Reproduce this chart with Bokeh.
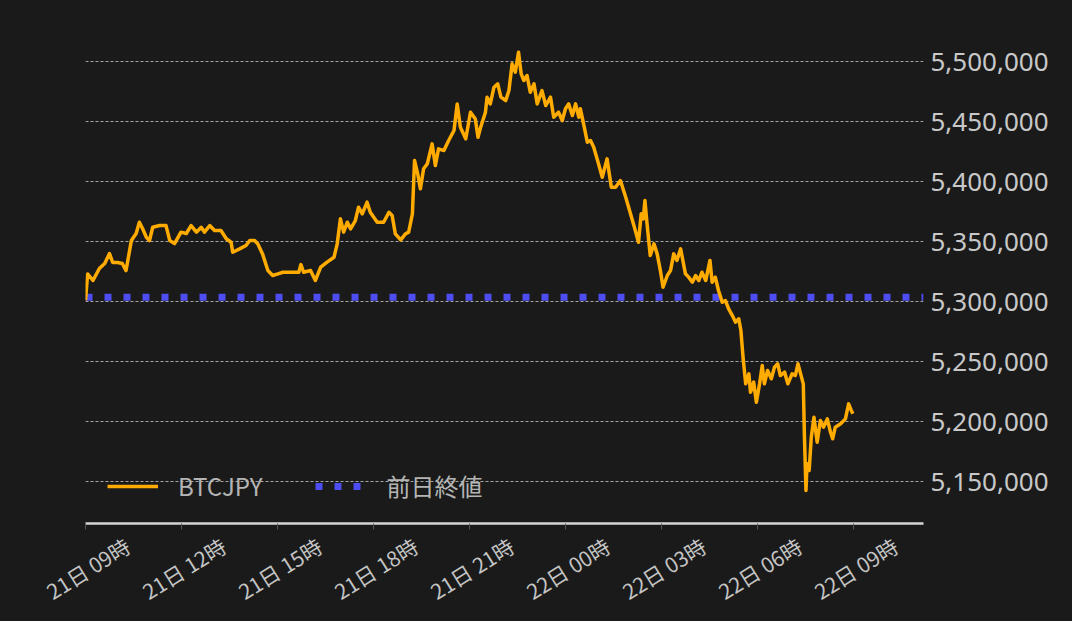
import math
import datetime as dt
from bokeh.plotting import figure
from bokeh.models import (ColumnDataSource, FixedTicker, NumeralTickFormatter, Range1d,
                          Legend, LegendItem, DatetimeAxis, CustomJSTickFormatter)
from bokeh.embed import file_html
from bokeh.resources import INLINE

# ---- data ----
start_label = "2021-12-21 09:00"
times = ["09:00", "09:04", "09:14", "09:26", "09:36", "09:45", "09:51", "10:00", "10:09", "10:16",
         "10:26", "10:35", "10:41", "10:47", "10:54", "11:00", "11:06", "11:19", "11:31", "11:38",
         "11:47", "11:59", "12:09", "12:18", "12:28", "12:37", "12:43", "12:53", "13:02", "13:14",
         "13:24", "13:33", "13:36", "13:49", "14:01", "14:08", "14:17", "14:23", "14:32", "14:42",
         "14:51", "15:01", "15:10", "15:24", "15:40", "15:44", "15:49", "16:02", "16:11", "16:21",
         "16:33", "16:46", "16:52", "16:58", "17:04", "17:11", "17:17", "17:26", "17:32", "17:39",
         "17:48", "17:54", "18:07", "18:19", "18:29", "18:35", "18:41", "18:51", "19:00", "19:06",
         "19:13", "19:17", "19:23", "19:28", "19:34", "19:41", "19:50", "19:56", "20:02", "20:12",
         "20:21", "20:31", "20:37", "20:43", "20:53", "21:02", "21:11", "21:16", "21:21", "21:30",
         "21:33", "21:39", "21:46", "21:53", "21:59", "22:08", "22:14", "22:20", "22:26", "22:32",
         "22:37", "22:42", "22:48", "22:54", "23:01", "23:07", "23:16", "23:23", "23:32", "23:38",
         "23:47", "23:54", "00:00", "00:06", "00:13", "00:19", "00:25", "00:28", "00:34", "00:41",
         "00:47", "00:53", "01:02", "01:09", "01:18", "01:26", "01:34", "01:43", "01:53", "02:02",
         "02:11", "02:17", "02:22", "02:26", "02:29", "02:33", "02:39", "02:46", "02:52", "02:58",
         "03:03", "03:11", "03:17", "03:23", "03:29", "03:36", "03:45", "03:51", "03:58", "04:04",
         "04:10", "04:16", "04:23", "04:31", "04:35", "04:41", "04:47", "04:54", "05:00", "05:06",
         "05:13", "05:19", "05:25", "05:29", "05:33", "05:38", "05:44", "05:47", "05:53", "05:58",
         "06:04", "06:09", "06:13", "06:19", "06:26", "06:32", "06:38", "06:43", "06:51", "06:57",
         "07:05", "07:11", "07:16", "07:21", "07:26", "07:28", "07:31", "07:33", "07:37", "07:41",
         "07:46", "07:52", "07:58", "08:04", "08:11", "08:17", "08:21", "08:26", "08:36", "08:45",
         "08:51", "08:56", "08:59"]
prices = [5301000, 5323000, 5317500, 5327500, 5331700, 5340000, 5332500, 5332500, 5331700, 5325800,
          5350800, 5356700, 5366100, 5360800, 5353600, 5350800, 5361900, 5363300, 5363300, 5350800,
          5348300, 5357800, 5356700, 5363300, 5357800, 5361900, 5357800, 5363300, 5359200, 5359200,
          5352300, 5349400, 5341100, 5343900, 5346700, 5350800, 5350800, 5348100, 5339700, 5325800,
          5321700, 5323100, 5324400, 5324400, 5324400, 5330800, 5324400, 5325800, 5317500, 5328600,
          5332800, 5336900, 5348100, 5368900, 5357800, 5366100, 5360600, 5367500, 5378600, 5373100,
          5382800, 5374400, 5366100, 5366100, 5374400, 5371700, 5356400, 5351400, 5356400, 5357800,
          5373100, 5417500, 5406400, 5393900, 5410600, 5414800, 5431400, 5413300, 5427200, 5425800,
          5434200, 5442500, 5464700, 5445300, 5435600, 5457800, 5452200, 5436900, 5445300, 5457800,
          5470300, 5464700, 5478600, 5481400, 5470300, 5467500, 5475800, 5498100, 5491100, 5507800,
          5489700, 5484200, 5488300, 5474400, 5481400, 5464700, 5475800, 5463300, 5470300, 5453600,
          5457800, 5450800, 5460600, 5464700, 5455000, 5464700, 5453600, 5460600, 5448100, 5432800,
          5434200, 5428600, 5414800, 5403600, 5418900, 5395300, 5395300, 5400800, 5386900, 5373100,
          5359200, 5349400, 5373100, 5368900, 5384200, 5364700, 5338300, 5348100, 5339700, 5325800,
          5311900, 5321700, 5325800, 5339700, 5334200, 5343900, 5323100, 5320300, 5316100, 5321700,
          5317500, 5324400, 5317500, 5334200, 5316100, 5320300, 5309200, 5299400, 5300800, 5293900,
          5288300, 5282800, 5285600, 5275800, 5253600, 5231400, 5239700, 5224400, 5232800, 5216100,
          5231400, 5246700, 5231400, 5242500, 5235600, 5245300, 5248100, 5238300, 5241100, 5231400,
          5239700, 5238300, 5248100, 5239700, 5231400, 5189700, 5142500, 5164700, 5159200, 5186900,
          5203600, 5182800, 5200800, 5195300, 5202200, 5191100, 5185600, 5195300, 5198100, 5202200,
          5214700, 5209200, 5206400]
prev_close = 5303600
series_name = "BTCJPY"
prev_name = "前日終値"
x_tick_labels = ["21日 09時", "21日 12時", "21日 15時", "21日 18時", "21日 21時",
                 "22日 00時", "22日 03時", "22日 06時", "22日 09時"]
y_ticks = [5150000, 5200000, 5250000, 5300000, 5350000, 5400000, 5450000, 5500000]
y_bounds = [5115000, 5521700]
x_span_hours = 26.19

# ---- build timestamps ----
t0 = dt.datetime.strptime(start_label, "%Y-%m-%d %H:%M")
stamps = []
day = 0
prev_min = -1
for s in times:
    h, m = map(int, s.split(":"))
    mins = h * 60 + m
    if mins < prev_min:
        day += 1
    prev_min = mins
    stamps.append(t0.replace(hour=h, minute=m) + dt.timedelta(days=day))

def ms(d):
    return int(round((d - dt.datetime(1970, 1, 1)).total_seconds() * 1000.0))

tick_ms = [ms(t0 + dt.timedelta(hours=3 * i)) for i in range(len(x_tick_labels))]
x_end = t0 + dt.timedelta(hours=x_span_hours)

FRAME_W, FRAME_H = 838, 488
src = ColumnDataSource(dict(t=stamps, price=prices))
prev_src = ColumnDataSource(dict(t=[t0, x_end], price=[prev_close, prev_close]))

BG = "#1a1a1a"
x0, x1 = ms(t0), ms(x_end)
p = figure(frame_width=FRAME_W, frame_height=FRAME_H, x_axis_type="datetime",
           y_axis_location="right", output_backend="svg", toolbar_location=None,
           min_border_left=85, min_border_top=35, min_border_right=149, min_border_bottom=96,
           background_fill_color=BG, border_fill_color=BG,
           outline_line_color=None,
           x_range=Range1d(x0, x1), y_range=Range1d(*y_bounds))
p.styles = {"background-color": BG}

r_prev = p.line("t", "price", source=prev_src, line_color="#4d4df2", line_width=7,
                line_dash="7 12", line_cap="butt")
r_btc = p.line("t", "price", source=src, line_color="#ffab00", line_width=3.5, line_join="round")

# grid
p.xgrid.visible = False
p.ygrid.ticker = FixedTicker(ticks=y_ticks)
p.ygrid.grid_line_color = "#bdbdbd"
p.ygrid.grid_line_width = 1
p.ygrid.grid_line_dash = "3 2"
p.ygrid.grid_line_alpha = 0.85

# y axis (right)
ya = p.yaxis[0]
ya.ticker = FixedTicker(ticks=y_ticks)
ya.formatter = NumeralTickFormatter(format="0,0")
ya.axis_line_color = None
ya.major_tick_line_color = None
ya.minor_tick_line_color = None
ya.major_label_standoff = 1
ya.major_label_text_font = "Noto Sans"
ya.major_label_text_font_size = "26px"
ya.major_label_text_color = "#c8c8c8"

# x axis (bottom): line and tick marks only
xa = p.xaxis[0]
xa.ticker = FixedTicker(ticks=tick_ms)
xa.formatter = CustomJSTickFormatter(code="return '';")
xa.axis_line_color = "#d6d6d6"
xa.axis_line_width = 2.5
xa.major_tick_line_color = "#555555"
xa.major_tick_in = 0
xa.major_tick_out = 6
xa.minor_tick_line_color = None
xa.major_label_text_font_size = "1px"
xa.major_label_standoff = 0

# x tick labels: rotated and centred under each tick (axis on a shifted range)
shift = (x1 - x0) * 42.0 / FRAME_W
p.extra_x_ranges = {"labels": Range1d(x0 - shift, x1 - shift)}
fmt = CustomJSTickFormatter(args=dict(tick_values=tick_ms, tick_labels=x_tick_labels), code="""
    for (let i = 0; i < tick_values.length; i++) {
        if (Math.abs(tick_values[i] - tick) < 1000) return tick_labels[i];
    }
    return "";
""")
xl = DatetimeAxis(x_range_name="labels", ticker=FixedTicker(ticks=tick_ms), formatter=fmt,
                  axis_line_color=None, major_tick_line_color=None, minor_tick_line_color=None,
                  major_label_orientation=math.radians(32), major_label_standoff=8,
                  major_label_text_font="Noto Sans CJK JP", major_label_text_font_size="21px",
                  major_label_text_color="#c4c4c4")
p.add_layout(xl, "below")

legend = Legend(items=[LegendItem(label=series_name, renderers=[r_btc]),
                       LegendItem(label=prev_name, renderers=[r_prev])],
                orientation="horizontal", location=(12, 10),
                glyph_width=51, glyph_height=28, label_height=28, label_standoff=20,
                spacing=53, padding=10, margin=0,
                background_fill_alpha=0, border_line_alpha=0,
                label_text_font="Noto Sans CJK JP", label_text_font_size="24px",
                label_text_color="#b4b4b4")
p.add_layout(legend)

open("out.html", "w").write(file_html(p, INLINE))
